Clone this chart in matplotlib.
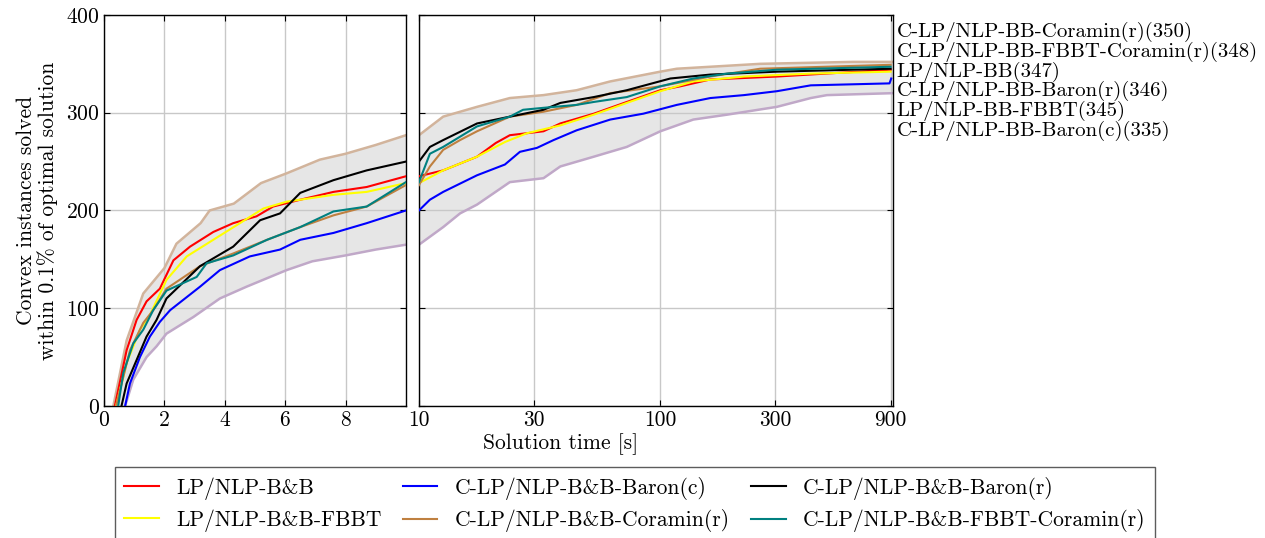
import numpy as np
import matplotlib
matplotlib.use("Agg")
import matplotlib.pyplot as plt

plt.rcParams['font.family'] = 'serif'
plt.rcParams['font.serif'] = ['cmr10']
plt.rcParams['mathtext.fontset'] = 'cm'
plt.rcParams['axes.formatter.use_mathtext'] = True

# (time [s], solved instances)
upper_t = [0.31, 0.75, 1.3, 2.0, 2.4, 3.2, 3.5, 4.3, 5.2, 6.05, 7.15, 8.0, 9.0, 10, 12.6, 17.4, 23.8, 32.8, 45, 62, 100, 117, 259, 630, 920]
upper_n = [0, 67, 115, 141, 166, 187, 200, 207, 228, 238, 252, 258, 267, 277, 296, 306, 315, 318, 323, 332, 342, 345, 350, 352, 352]
lower_t = [0.7, 0.97, 1.41, 1.74, 2.07, 2.96, 3.84, 4.72, 6.05, 6.9, 8.0, 9.0, 10, 12.6, 14.8, 17.4, 23.8, 32.8, 38.5, 53, 72.6, 100, 137, 189, 304, 420, 490, 920]
lower_n = [0, 27, 50, 61, 74, 91, 110, 122, 139, 148, 154, 160, 165, 183, 197, 206, 229, 233, 245, 255, 265, 281, 293, 298, 306, 315, 318, 320]

bb_t = [0.36, 0.75, 1.08, 1.41, 1.85, 2.3, 2.85, 3.62, 4.28, 5.05, 5.6, 6.5, 7.6, 8.7, 10, 12.6, 17.4, 20.8, 23.8, 32.8, 38.5, 53, 72.6, 100, 121, 161, 304, 900]
bb_n = [0, 57, 88, 107, 120, 149, 163, 178, 187, 194, 204, 211, 219, 224, 235, 241, 255, 269, 277, 281, 289, 299, 311, 323, 327, 334, 337, 344]

fbbt_t = [0.4, 0.75, 1.19, 1.52, 2.07, 2.74, 3.62, 4.5, 5.28, 6.05, 7.6, 8.7, 10, 12.6, 17.4, 22.7, 28, 38.5, 53, 72.6, 100, 137, 222, 420, 900]
fbbt_n = [0, 44, 78, 93, 129, 153, 170, 187, 202, 209, 216, 219, 228, 241, 255, 270, 279, 287, 298, 310, 322, 332, 337, 340, 342]

baronc_t = [0.7, 0.86, 1.19, 1.52, 1.85, 2.19, 3.18, 3.84, 4.83, 5.83, 6.5, 7.6, 8.7, 10, 11.1, 12.6, 17.4, 22.7, 26.2, 30.8, 36.1, 45, 62, 85, 117, 161, 222, 304, 420, 890, 905]
baronc_n = [0, 23, 50, 71, 86, 98, 122, 139, 153, 160, 170, 177, 187, 200, 211, 219, 236, 247, 260, 264, 272, 282, 293, 299, 308, 315, 318, 322, 328, 330, 335]

baronr_t = [0.58, 0.75, 1.08, 1.41, 1.74, 2.07, 3.18, 4.28, 5.17, 5.83, 6.5, 7.6, 8.7, 10, 11.1, 12.6, 17.4, 23.8, 32.8, 38.5, 53, 72.6, 110, 161, 304, 900]
baronr_n = [0, 23, 47, 71, 88, 110, 143, 163, 190, 197, 218, 231, 241, 250, 265, 272, 289, 296, 303, 310, 316, 323, 335, 339, 342, 345]

coramin_t = [0.4, 0.86, 1.3, 1.63, 2.07, 3.18, 4.28, 5.4, 6.5, 7.6, 8.7, 10, 11.1, 12.6, 14.8, 17.4, 23.8, 32.8, 45, 62, 100, 161, 259, 900]
coramin_n = [0, 57, 85, 98, 120, 143, 156, 170, 183, 195, 204, 226, 245, 262, 272, 281, 296, 301, 308, 320, 327, 337, 345, 349]

fbbtcor_t = [0.47, 0.64, 0.97, 1.3, 1.63, 2.07, 3.07, 3.4, 4.28, 5.4, 6.5, 7.6, 8.7, 10, 11.1, 12.6, 17.4, 23.8, 27, 32.8, 45, 53, 72.6, 100, 137, 189, 304, 900]
fbbtcor_n = [0, 34, 64, 78, 98, 118, 132, 146, 154, 170, 183, 199, 204, 229, 258, 265, 286, 296, 303, 305, 308, 311, 316, 327, 335, 340, 344, 347]

series = [
    ("LP/NLP-B&B", bb_t, bb_n, "#ff0000"),
    ("LP/NLP-B&B-FBBT", fbbt_t, fbbt_n, "#ffff00"),
    ("C-LP/NLP-B&B-Baron(c)", baronc_t, baronc_n, "#0000ff"),
    ("C-LP/NLP-B&B-Coramin(r)", coramin_t, coramin_n, "#bf8040"),
    ("C-LP/NLP-B&B-Baron(r)", baronr_t, baronr_n, "#000000"),
    ("C-LP/NLP-B&B-FBBT-Coramin(r)", fbbtcor_t, fbbtcor_n, "#008080"),
]

side_labels = ["C-LP/NLP-BB-Coramin(r)(350)", "C-LP/NLP-BB-FBBT-Coramin(r)(348)",
               "LP/NLP-BB(347)", "C-LP/NLP-BB-Baron(r)(346)",
               "LP/NLP-BB-FBBT(345)", "C-LP/NLP-BB-Baron(c)(335)"]

fig = plt.figure(figsize=(12.65, 5.38), dpi=100)
ax1 = fig.add_axes([0.0822, 0.2454, 0.2387, 0.7268])
ax2 = fig.add_axes([0.3312, 0.2454, 0.3747, 0.7268])

# common grid of times for the shaded band
tgrid = np.concatenate([np.linspace(0, 10, 400), np.geomspace(10, 920, 400)])
up = np.interp(tgrid, upper_t, upper_n, left=0)
lo = np.interp(tgrid, lower_t, lower_n, left=0)

for ax in (ax1, ax2):
    ax.fill_between(tgrid, lo, up, color="#e6e6e6", lw=0, zorder=1)
    ax.plot(upper_t, upper_n, color="#d2b49c", lw=1.8, zorder=2)
    ax.plot(lower_t, lower_n, color="#c0a8c8", lw=1.8, zorder=2)
    for name, t, n, c in series:
        ax.plot(t, n, color=c, lw=1.5, label=name, zorder=3)
    ax.set_ylim(0, 400)
    ax.set_yticks([0, 100, 200, 300, 400])
    ax.grid(True, color="#c8c8c8", lw=1.0, zorder=0)
    ax.tick_params(direction="in", labelsize=15.5, length=4, top=True, right=True, pad=3)
    for s in ax.spines.values():
        s.set_linewidth(1.0)

ax1.set_xlim(0, 10)
ax1.set_xticks([0, 2, 4, 6, 8])

ax2.set_xscale("log")
ax2.set_xlim(10, 920)
ax2.set_xticks([10, 30, 100, 300, 900])
ax2.set_xticklabels(["10", "30", "100", "300", "900"])
ax2.minorticks_off()
ax2.tick_params(labelleft=False)

ax1.set_ylabel("Convex instances solved\nwithin 0.1% of optimal solution", fontsize=15.5, linespacing=1.05, labelpad=6)
fig.text(0.4435, 1 - 444 / 538, "Solution time [s]", fontsize=15.5, ha="center", va="center")

for i, s in enumerate(side_labels):
    fig.text(0.709, 1 - (32 + 19.8 * i) / 538, s, fontsize=15, ha="left", va="center")

handles, labels = ax2.get_legend_handles_labels()
fig.legend(handles, labels, loc="upper center", bbox_to_anchor=(0.502, 1 - 467 / 538), ncol=3,
           fontsize=15.5, frameon=True, fancybox=False, edgecolor="#333333",
           handlelength=1.6, columnspacing=1.0, borderpad=0.45, labelspacing=0.45,
           borderaxespad=0)

fig.savefig("out.png", dpi=100)
